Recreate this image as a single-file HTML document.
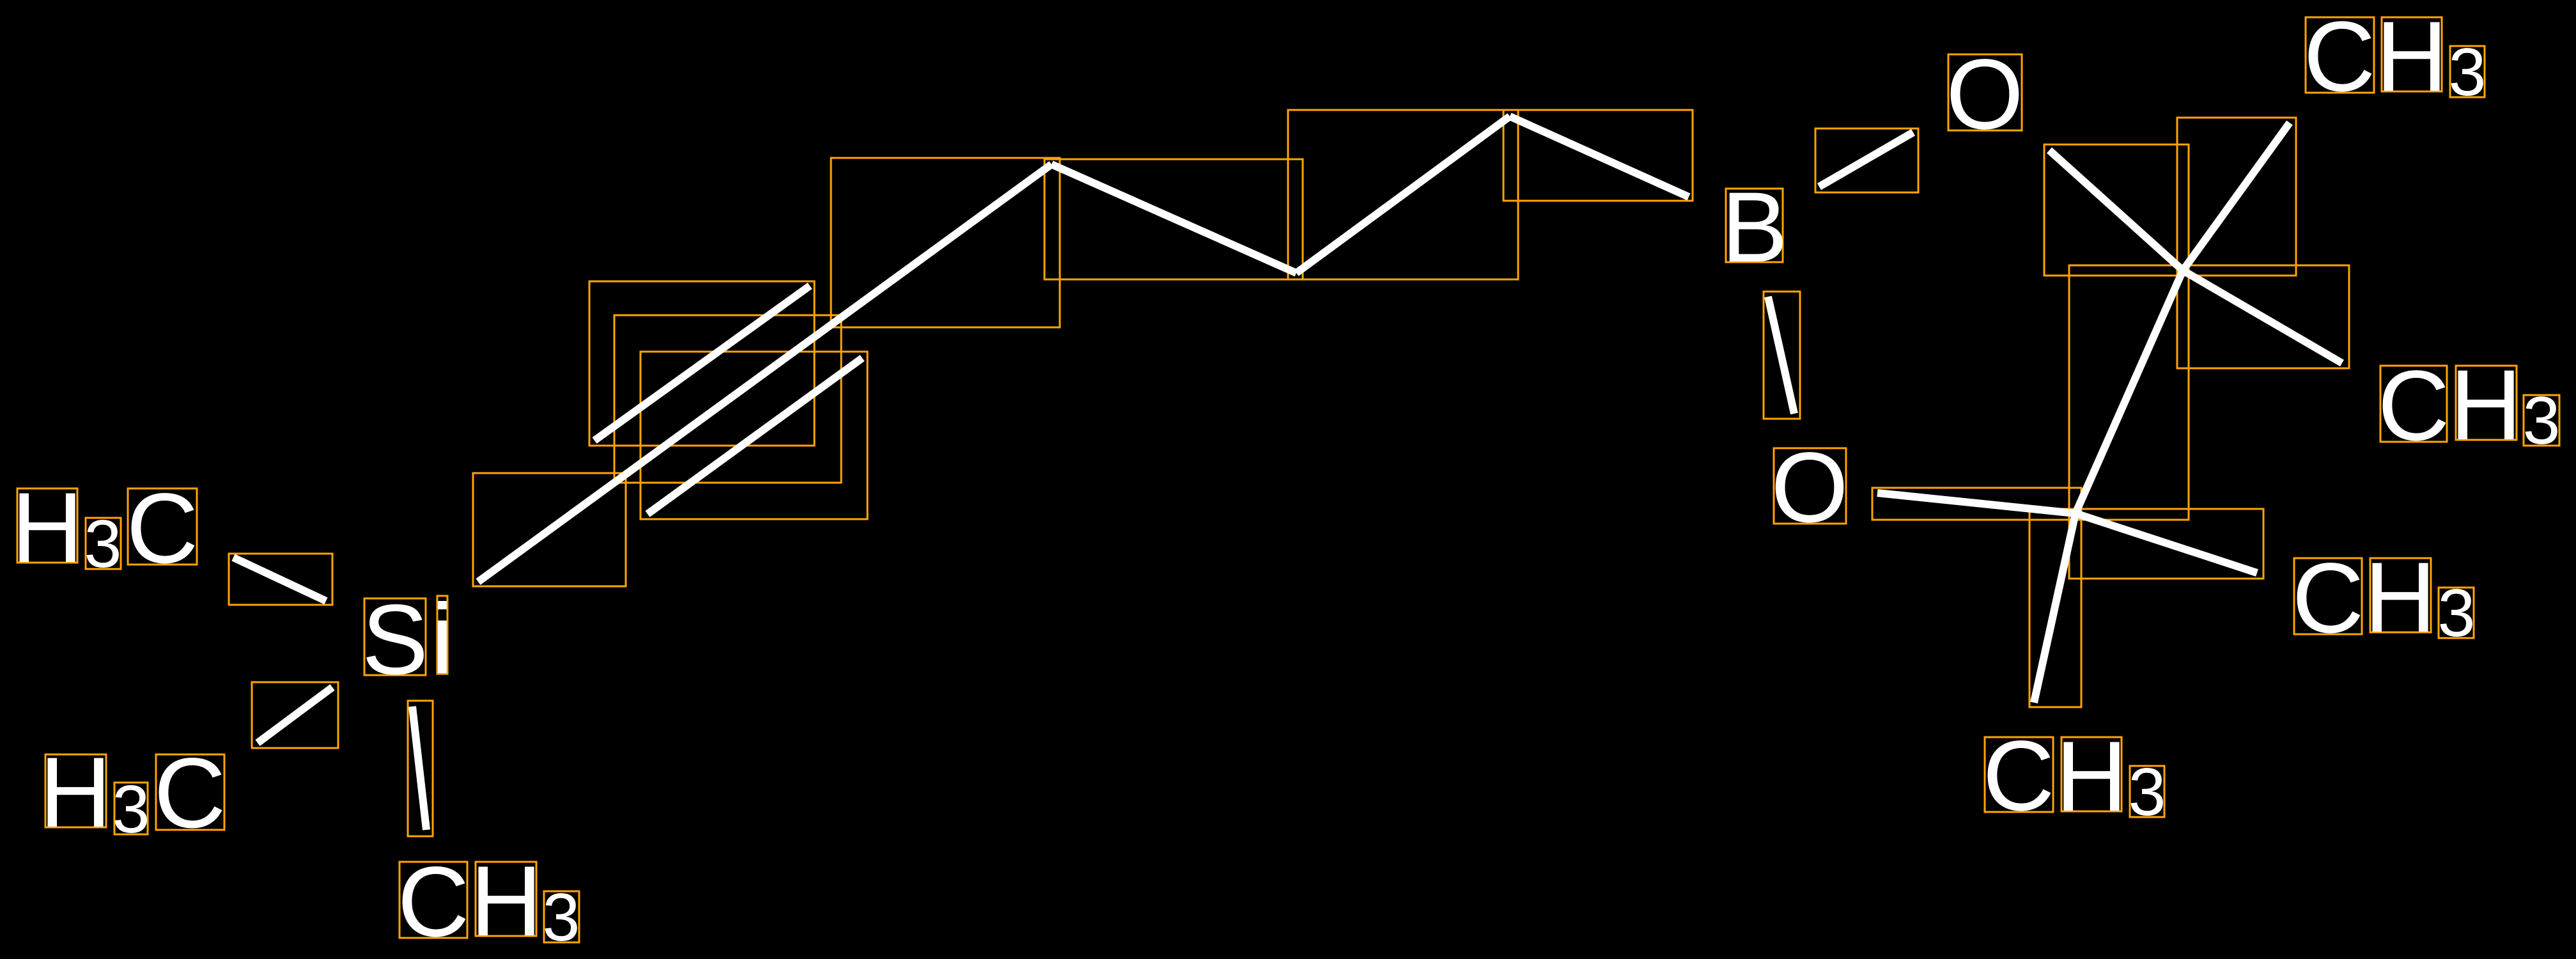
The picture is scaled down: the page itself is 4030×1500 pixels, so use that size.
<!DOCTYPE html>
<html><head><meta charset="utf-8"><style>html,body{margin:0;padding:0;background:#000;width:4030px;height:1500px;overflow:hidden}</style></head>
<body>
<svg width="4030" height="1500" viewBox="0 0 4030 1500" xmlns="http://www.w3.org/2000/svg">
<rect width="4030" height="1500" fill="#000"/>
<g fill="none" stroke="#FFA500" stroke-width="3">
<rect x="740" y="740" width="239" height="177"/>
<rect x="961" y="493" width="355" height="262"/>
<rect x="1300" y="247" width="358" height="265"/>
<rect x="922" y="440" width="352" height="257"/>
<rect x="1002" y="550" width="355" height="262"/>
<rect x="1634" y="249" width="404" height="188"/>
<rect x="2015" y="172" width="360" height="265"/>
<rect x="2352" y="172" width="296" height="142"/>
<rect x="358" y="866" width="162" height="80"/>
<rect x="394" y="1067" width="135" height="103"/>
<rect x="638" y="1096" width="39" height="212"/>
<rect x="2840" y="201" width="161" height="100"/>
<rect x="2759" y="456" width="57" height="199"/>
<rect x="2929" y="763" width="327" height="50"/>
<rect x="3237" y="415" width="187" height="398"/>
<rect x="3198" y="226" width="226" height="205"/>
<rect x="3406" y="184" width="186" height="247"/>
<rect x="3406" y="415" width="269" height="161"/>
<rect x="3237" y="796" width="304" height="109"/>
<rect x="3175" y="796" width="81" height="310"/>
<rect x="27" y="764" width="94" height="116"/><rect x="134" y="810" width="55" height="80"/><rect x="200" y="764" width="108" height="119"/>
<rect x="71" y="1180" width="95" height="114"/><rect x="179" y="1224" width="52" height="81"/><rect x="244" y="1180" width="107" height="118"/>
<rect x="570" y="936" width="96" height="120"/><rect x="684" y="932" width="16" height="122"/>
<rect x="625" y="1348" width="106" height="119"/><rect x="744" y="1348" width="95" height="116"/><rect x="851" y="1394" width="55" height="80"/>
<rect x="2700" y="295" width="89" height="115"/>
<rect x="3048" y="85" width="115" height="119"/>
<rect x="3607" y="27" width="107" height="118"/><rect x="3726" y="27" width="94" height="116"/><rect x="3833" y="72" width="54" height="80"/>
<rect x="3724" y="572" width="104" height="119"/><rect x="3842" y="572" width="95" height="116"/><rect x="3948" y="618" width="56" height="79"/>
<rect x="2775" y="701" width="113" height="118"/>
<rect x="3589" y="873" width="106" height="119"/><rect x="3708" y="873" width="95" height="116"/><rect x="3815" y="919" width="55" height="79"/>
<rect x="3105" y="1153" width="107" height="117"/><rect x="3225" y="1153" width="94" height="116"/><rect x="3332" y="1198" width="54" height="80"/>
</g>
<g stroke="#fff" stroke-width="12" stroke-linecap="butt">
<line x1="748" y1="910" x2="1645" y2="257"/>
<line x1="930" y1="689" x2="1267" y2="447"/>
<line x1="1013" y1="804" x2="1349" y2="560"/>
<line x1="1645" y1="257" x2="2028" y2="427"/>
<line x1="2028" y1="427" x2="2362" y2="182"/>
<line x1="2362" y1="182" x2="2642" y2="308"/>
<line x1="365" y1="872" x2="510" y2="940"/>
<line x1="403" y1="1162" x2="520" y2="1075"/>
<line x1="645" y1="1105" x2="667" y2="1298"/>
<line x1="2846" y1="292" x2="2993" y2="207"/>
<line x1="2766" y1="464" x2="2807" y2="647"/>
<line x1="2937" y1="771" x2="3247" y2="803"/>
<line x1="3247" y1="803" x2="3415" y2="423"/>
<line x1="3206" y1="235" x2="3415" y2="423"/>
<line x1="3415" y1="423" x2="3582" y2="192"/>
<line x1="3415" y1="423" x2="3664" y2="568"/>
<line x1="3247" y1="803" x2="3531" y2="896"/>
<line x1="3247" y1="803" x2="3182" y2="1099"/>
</g>
<g fill="#fff" font-family="Liberation Sans, sans-serif" text-anchor="middle">
<g font-size="156">
<text x="74" y="879">H</text><text x="254" y="880">C</text>
<text x="118" y="1293">H</text><text x="297" y="1294">C</text>
<text x="618" y="1054">S</text><text x="692" y="1053">i</text>
<text x="678" y="1464">C</text><text x="792" y="1463">H</text>
<text x="2745" y="409">B</text>
<text x="3105" y="201">O</text>
<text x="3660" y="142">C</text><text x="3773" y="142">H</text>
<text x="3776" y="688">C</text><text x="3889" y="687">H</text>
<text x="2831" y="816">O</text>
<text x="3642" y="989">C</text><text x="3755" y="988">H</text>
<text x="3158" y="1267">C</text><text x="3272" y="1268">H</text>
</g>
<g font-size="106">
<text x="161" y="887">3</text>
<text x="205" y="1302">3</text>
<text x="878" y="1471">3</text>
<text x="3860" y="149">3</text>
<text x="3976" y="694">3</text>
<text x="3843" y="995">3</text>
<text x="3359" y="1275">3</text>
</g>
</g>
</svg>
</body></html>
